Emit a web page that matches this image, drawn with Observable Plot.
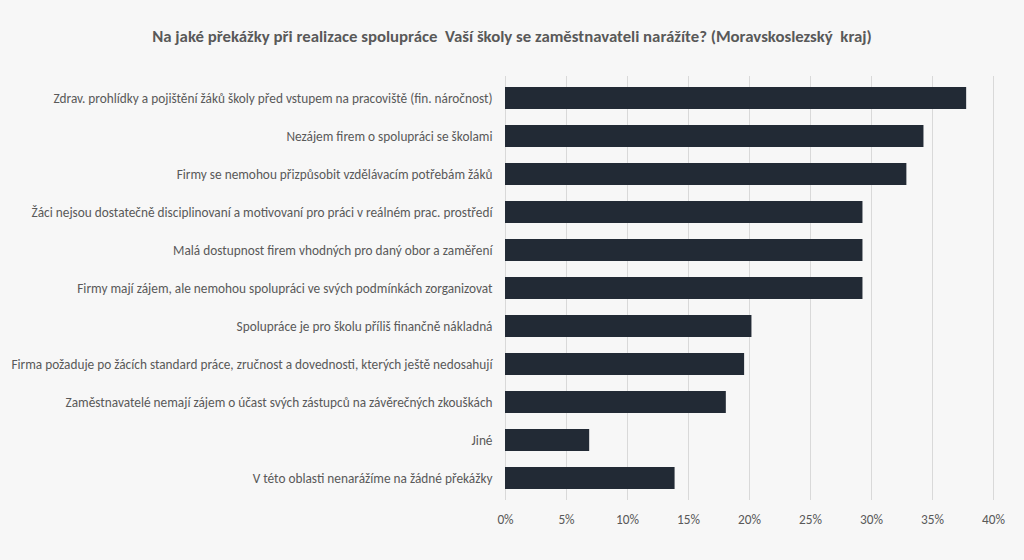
<!DOCTYPE html>
<html>
<head>
<meta charset="utf-8">
<script src="https://cdn.jsdelivr.net/npm/d3@7"></script>
<script src="https://cdn.jsdelivr.net/npm/@observablehq/plot@0.6"></script>
<style>
  html, body { margin: 0; padding: 0; background: #f7f7f7; }
  body { width: 1024px; height: 560px; overflow: hidden; font-family: Carlito, Calibri, Lato, sans-serif; }
  #title { height: 60px; box-sizing: border-box; padding-top: 26px; text-align: center; font-size: 16.8px; font-weight: bold; color: #595959; white-space: pre; }
  #chart svg { display: block; }
</style>
</head>
<body>
<div id="title">Na jaké překážky při realizace spolupráce  Vaší školy se zaměstnavateli narážíte? (Moravskoslezský  kraj)</div>
<div id="chart"></div>
<script>
const categories = [
  "Zdrav. prohlídky a pojištění žáků školy před vstupem na pracoviště (fin. náročnost)",
  "Nezájem firem o spolupráci se školami",
  "Firmy se nemohou přizpůsobit vzdělávacím potřebám žáků",
  "Žáci nejsou dostatečně disciplinovaní a motivovaní pro práci v reálném prac. prostředí",
  "Malá dostupnost firem vhodných pro daný obor a zaměření",
  "Firmy mají zájem, ale nemohou spolupráci ve svých podmínkách zorganizovat",
  "Spolupráce je pro školu příliš finančně nákladná",
  "Firma požaduje po žácích standard práce, zručnost a dovednosti, kterých ještě nedosahují",
  "Zaměstnavatelé nemají zájem o účast svých zástupců na závěrečných zkouškách",
  "Jiné",
  "V této oblasti nenarážíme na žádné překážky"
];
const values = [0.378, 0.343, 0.329, 0.293, 0.293, 0.293, 0.202, 0.196, 0.181, 0.069, 0.139];
const xTicks = [0, 0.05, 0.10, 0.15, 0.20, 0.25, 0.30, 0.35, 0.40];

const data = categories.map((c, i) => ({category: c, value: values[i]}));

const chart = Plot.plot({
  width: 1024,
  height: 500,
  marginTop: 16,
  marginBottom: 60,
  marginLeft: 505,
  marginRight: 31,
  style: {background: "transparent", fontFamily: "Carlito, Calibri, Lato, sans-serif", fontSize: "13.3px", color: "#595959"},
  x: {domain: [0, 0.40], ticks: xTicks, tickFormat: d => Math.round(d * 100) + "%", label: null, tickSize: 0, tickPadding: 14},
  y: {domain: categories, label: null, tickSize: 0, tickPadding: 13, paddingInner: 0.43, paddingOuter: 0.215},
  marks: [
    Plot.gridX(xTicks, {stroke: "#d9d9d9", strokeOpacity: 1, strokeWidth: 1}),
    Plot.barX(data, {x: "value", y: "category", fill: "#222a35"}),
    Plot.axisY({tickSize: 0, tickPadding: 13, fontSize: 13.3, fill: "#595959"}),
    Plot.axisX({ticks: xTicks, tickFormat: d => Math.round(d * 100) + "%", tickSize: 0, tickPadding: 14, fontSize: 13.3, fill: "#595959", label: null})
  ]
});
document.getElementById("chart").appendChild(chart);
</script>
</body>
</html>
